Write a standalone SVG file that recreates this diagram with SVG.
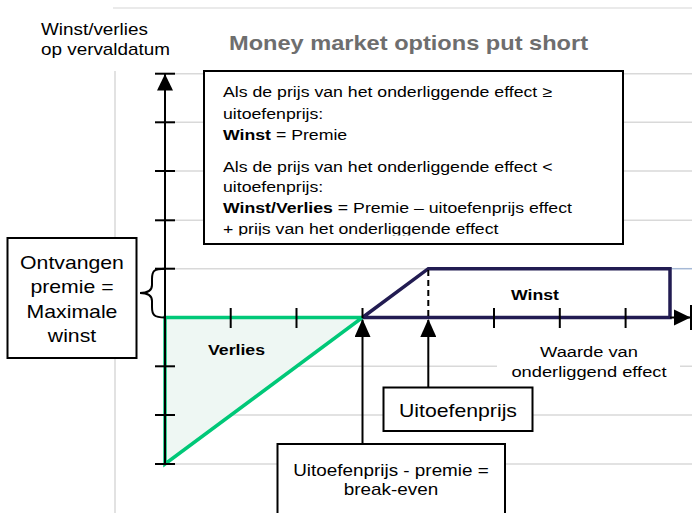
<svg xmlns="http://www.w3.org/2000/svg" width="697" height="513" viewBox="0 0 697 513">
<style>
.t{font-family:"Liberation Sans",Arial,sans-serif;fill:#000}
.b{font-weight:bold}
.grid{stroke:#d9d9d9;stroke-width:1.5;fill:none}
.box{fill:#fff;stroke:#000;stroke-width:2}
.ax{stroke:#000;stroke-width:2;fill:none}
.tick{stroke:#000;stroke-width:2}
</style>
<defs>
<marker id="ah" viewBox="0 0 18 16" refX="17" refY="8" markerWidth="18" markerHeight="16" markerUnits="userSpaceOnUse" orient="auto">
<path d="M0,0 L18,8 L0,16 Z" fill="#000"/>
</marker>
<clipPath id="boxclip"><rect x="204" y="71" width="419" height="164.5"/></clipPath>
</defs>
<rect width="697" height="513" fill="#fff"/>
<g id="grid">
<line class="grid" x1="113" y1="8" x2="692" y2="8" style="stroke:#e3e3e3"/>
<line class="grid" x1="115" y1="71" x2="115" y2="513"/>
<line class="grid" x1="165" y1="73.7" x2="692" y2="73.7"/>
<line class="grid" x1="165" y1="122.3" x2="692" y2="122.3"/>
<line class="grid" x1="165" y1="171" x2="692" y2="171"/>
<line class="grid" x1="165" y1="220.3" x2="692" y2="220.3"/>
<line class="grid" x1="165" y1="268.7" x2="670" y2="268.7"/>
<line x1="670" y1="268.7" x2="692" y2="268.7" stroke="#a6b9d6" stroke-width="1.5"/>
<line class="grid" x1="165" y1="366.3" x2="692" y2="366.3"/>
<line class="grid" x1="165" y1="415" x2="692" y2="415"/>
<line class="grid" x1="165" y1="464" x2="692" y2="464"/>
</g>
<g id="verlies-area">
<polygon points="165,317.5 362.5,317.5 165,464" fill="#eef7f3" stroke="#00c878" stroke-width="3.5" stroke-linejoin="miter"/>
</g>
<g id="winst-area">
<path d="M362.5,317.5 L428.3,268.7 L670,268.7 L670,317.5 L362.5,317.5" fill="none" stroke="#221c52" stroke-width="3.5"/>
<line x1="428.3" y1="270" x2="428.3" y2="316" stroke="#000" stroke-width="2" stroke-dasharray="6,4"/>
</g>
<g id="axes">
<line class="ax" x1="165" y1="464" x2="165" y2="74"/>
<path d="M157,90.5 L165,74 L173,90.5 Z" fill="#000"/>
<line class="ax" x1="670" y1="317.5" x2="690" y2="317.5"/>
<path d="M674,309.5 L690.5,317.5 L674,325.5 Z" fill="#000"/>
<line class="tick" x1="691" y1="305" x2="691" y2="330"/>
<g class="tick">
<line x1="155" y1="73.7" x2="175" y2="73.7"/>
<line x1="155" y1="122.3" x2="175" y2="122.3"/>
<line x1="155" y1="171" x2="175" y2="171"/>
<line x1="155" y1="220.3" x2="175" y2="220.3"/>
<line x1="155" y1="268.7" x2="175" y2="268.7"/>
<line x1="155" y1="366.3" x2="175" y2="366.3"/>
<line x1="155" y1="415" x2="175" y2="415"/>
<line x1="155" y1="464" x2="175" y2="464"/>
<line x1="230.7" y1="308" x2="230.7" y2="328"/>
<line x1="296.5" y1="308" x2="296.5" y2="328"/>
<line x1="362.5" y1="308" x2="362.5" y2="318"/>
<line x1="494" y1="308" x2="494" y2="328"/>
<line x1="559.8" y1="308" x2="559.8" y2="328"/>
<line x1="625.6" y1="308" x2="625.6" y2="328"/>
</g>
</g>
<g id="axis-labels">
<text class="t" font-size="16" transform="translate(41 35) scale(1.18 1)">Winst/verlies</text>
<text class="t" font-size="16" transform="translate(41 55) scale(1.18 1)">op vervaldatum</text>
<text class="t b" font-size="20" style="fill:#6e6e6e" transform="translate(229 50) scale(1.18 1)">Money market options put short</text>
<rect x="497" y="342" width="183" height="42" fill="#fff"/>
<text class="t" font-size="15.5" text-anchor="middle" transform="translate(589 357) scale(1.18 1)">Waarde van</text>
<text class="t" font-size="15.5" text-anchor="middle" transform="translate(589 377) scale(1.18 1)">onderliggend effect</text>
<text class="t b" font-size="15" transform="translate(208 355) scale(1.18 1)">Verlies</text>
<text class="t b" font-size="15" transform="translate(511 299.5) scale(1.18 1)">Winst</text>
</g>
<g id="connectors">
<line class="ax" x1="362.5" y1="444" x2="362.5" y2="320" marker-end="url(#ah)"/>
<line class="ax" x1="428.3" y1="387" x2="428.3" y2="320" marker-end="url(#ah)"/>
<path d="M165,268.7 C154,268.7 152,271 152,279 L152,285 C152,290.5 147,293 140,293 C147,293 152,295.5 152,301 L152,307 C152,315 154,317.5 165,317.5" fill="none" stroke="#000" stroke-width="2"/>
</g>
<g id="voorwaarden">
<rect class="box" x="204" y="71" width="419" height="173"/>
<g clip-path="url(#boxclip)">
<text class="t" font-size="15" transform="translate(223 97) scale(1.18 1)">Als de prijs van het onderliggende effect ≥</text>
<text class="t" font-size="15" transform="translate(223 118.5) scale(1.18 1)">uitoefenprijs:</text>
<text class="t" font-size="15" transform="translate(223 140) scale(1.18 1)"><tspan class="b">Winst</tspan> = Premie</text>
<text class="t" font-size="15" transform="translate(223 171.5) scale(1.18 1)">Als de prijs van het onderliggende effect &lt;</text>
<text class="t" font-size="15" transform="translate(223 192.3) scale(1.18 1)">uitoefenprijs:</text>
<text class="t" font-size="15" transform="translate(223 213.3) scale(1.18 1)"><tspan class="b">Winst/Verlies</tspan> = Premie – uitoefenprijs effect</text>
<text class="t" font-size="15" transform="translate(223 233.8) scale(1.18 1)">+ prijs van het onderliggende effect</text>
</g>
</g>
<g id="ontvangen-premie">
<rect class="box" x="7.5" y="238" width="129" height="120"/>
<text class="t" font-size="18" text-anchor="middle" transform="translate(72 268.5) scale(1.18 1)">Ontvangen</text>
<text class="t" font-size="18" text-anchor="middle" transform="translate(72 293) scale(1.18 1)">premie =</text>
<text class="t" font-size="18" text-anchor="middle" transform="translate(72 318) scale(1.18 1)">Maximale</text>
<text class="t" font-size="18" text-anchor="middle" transform="translate(72 342) scale(1.18 1)">winst</text>
</g>
<g id="uitoefenprijs">
<rect class="box" x="383.5" y="387.5" width="149" height="43.5"/>
<text class="t" font-size="18" text-anchor="middle" transform="translate(458 417.3) scale(1.18 1)">Uitoefenprijs</text>
</g>
<g id="break-even">
<rect class="box" x="277.5" y="444" width="227.5" height="80"/>
<text class="t" font-size="16" text-anchor="middle" transform="translate(391 476) scale(1.18 1)">Uitoefenprijs - premie =</text>
<text class="t" font-size="16" text-anchor="middle" transform="translate(391 495) scale(1.18 1)">break-even</text>
</g>
</svg>
